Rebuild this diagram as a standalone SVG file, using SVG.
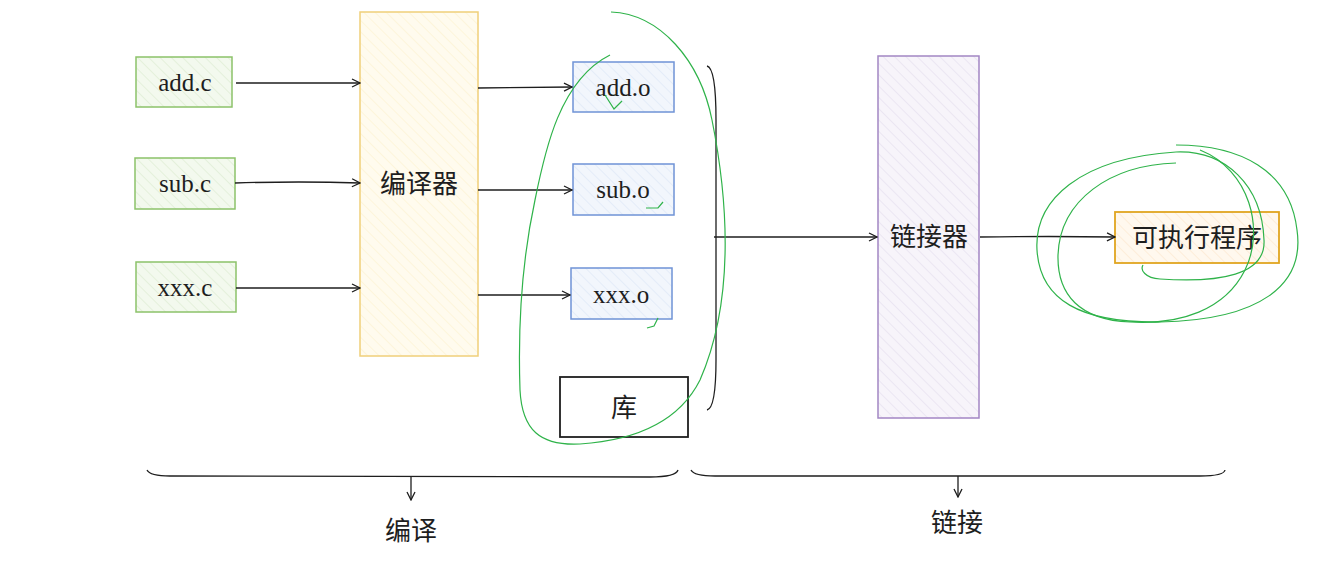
<svg xmlns="http://www.w3.org/2000/svg" width="1334" height="563" viewBox="0 0 1334 563">
<defs>
<marker id="ah" markerWidth="10" markerHeight="10" refX="9" refY="5" orient="auto" markerUnits="userSpaceOnUse"><path d="M1,1 L9,5 L1,9" fill="none" stroke="#1e1e1e" stroke-width="1.3"/></marker>
<pattern id="hg" width="8" height="8" patternUnits="userSpaceOnUse" patternTransform="rotate(-45)"><rect width="8" height="8" fill="#f3f9ee"/><line x1="0" y1="0" x2="0" y2="8" stroke="#d5e8c8" stroke-width="1"/></pattern>
<pattern id="hy" width="8" height="8" patternUnits="userSpaceOnUse" patternTransform="rotate(-45)"><rect width="8" height="8" fill="#fffbee"/><line x1="0" y1="0" x2="0" y2="8" stroke="#fcefc8" stroke-width="1"/></pattern>
<pattern id="hb" width="8" height="8" patternUnits="userSpaceOnUse" patternTransform="rotate(-45)"><rect width="8" height="8" fill="#f2f6fc"/><line x1="0" y1="0" x2="0" y2="8" stroke="#d6e2f5" stroke-width="1"/></pattern>
<pattern id="hp" width="8" height="8" patternUnits="userSpaceOnUse" patternTransform="rotate(-45)"><rect width="8" height="8" fill="#f7f4fa"/><line x1="0" y1="0" x2="0" y2="8" stroke="#e0d8ea" stroke-width="1"/></pattern>
<pattern id="ho" width="8" height="8" patternUnits="userSpaceOnUse" patternTransform="rotate(-45)"><rect width="8" height="8" fill="#fff8ee"/><line x1="0" y1="0" x2="0" y2="8" stroke="#fbe3c4" stroke-width="1"/></pattern>
</defs>
<style>
.s{font-family:"Liberation Serif",serif;font-size:25px;fill:#1e1e1e;text-anchor:middle}
.c{font-family:"Noto Sans CJK SC",sans-serif;font-size:26px;fill:#1e1e1e;text-anchor:middle}
.g{fill:url(#hg);stroke:#8cc26a;stroke-width:1.5}
.b{fill:url(#hb);stroke:#6f93d6;stroke-width:1.5}
.ln{fill:none;stroke:#1e1e1e;stroke-width:1.3}
.gr{fill:none;stroke:#2fb34a;stroke-width:1.2}
</style>
<rect width="1334" height="563" fill="#fff"/>
<g id="addc"><rect class="g" x="136" y="57" width="96" height="50"/><text class="s" x="185" y="91">add.c</text></g>
<g id="subc"><rect class="g" x="135" y="158" width="100" height="51"/><text class="s" x="185" y="192">sub.c</text></g>
<g id="xxxc"><rect class="g" x="136" y="262" width="100" height="50"/><text class="s" x="185" y="296">xxx.c</text></g>
<g id="compiler"><rect x="360" y="12" width="118" height="344" fill="url(#hy)" stroke="#f0cf7a" stroke-width="1.5"/><text class="c" x="419" y="193">编译器</text></g>
<g id="addo"><rect class="b" x="573" y="62" width="101" height="50"/><text class="s" x="623" y="96">add.o</text></g>
<g id="subo"><rect class="b" x="573" y="164" width="101" height="51"/><text class="s" x="623" y="198">sub.o</text></g>
<g id="xxxo"><rect class="b" x="571" y="268" width="101" height="51"/><text class="s" x="621" y="303">xxx.o</text></g>
<g id="lib"><rect x="560" y="377" width="128" height="60" fill="#fff" stroke="#1e1e1e" stroke-width="1.8"/><text class="c" x="624" y="417">库</text></g>
<g id="linker"><rect x="878" y="56" width="101" height="362" fill="url(#hp)" stroke="#a386c4" stroke-width="1.5"/><text class="c" x="929" y="246">链接器</text></g>
<g id="exe"><rect x="1115" y="212" width="164" height="51" fill="url(#ho)" stroke="#e0a520" stroke-width="1.8"/><text class="c" x="1197" y="247">可执行程序</text></g>
<g id="connectors">
<path class="ln" marker-end="url(#ah)" d="M236,83 L360,83"/>
<path class="ln" marker-end="url(#ah)" d="M235,183 Q300,181 360,183"/>
<path class="ln" marker-end="url(#ah)" d="M236,288 L360,288"/>
<path class="ln" marker-end="url(#ah)" d="M478,88 L572,87"/>
<path class="ln" marker-end="url(#ah)" d="M478,190 L572,190"/>
<path class="ln" marker-end="url(#ah)" d="M478,295 L570,295"/>
<path class="ln" d="M707,66 Q716,68 716,120 L716,360 Q716,408 707,410"/>
<path class="ln" marker-end="url(#ah)" d="M714,237 L877,237"/>
<path class="ln" marker-end="url(#ah)" d="M980,237 Q1050,236 1115,237"/>
<path class="ln" d="M147,470 Q150,476 170,476 L650,477 Q676,477 678,470"/>
<path class="ln" marker-end="url(#ah)" d="M411,477 L411,500"/>
<path class="ln" d="M691,470 Q694,476 715,476 L1200,476 Q1224,476 1225,470"/>
<path class="ln" marker-end="url(#ah)" d="M958,476 L958,497"/>
</g>
<text class="c" x="411" y="540">编译</text>
<text class="c" x="957" y="532">链接</text>
<g id="annotations">
<path class="gr" d="M611,12 C660,14 700,60 712,120 C728,200 735,300 700,380 C680,420 640,440 580,444 C540,446 522,430 520,390 C518,330 522,260 535,200 C545,150 560,80 610,55"/>
<path class="gr" d="M605,95 L614,109 L622,101"/>
<path class="gr" d="M646,208 L658,208 L663,202"/>
<path class="gr" d="M647,328 L654,326 L658,318"/>
<path class="gr" d="M1176,145 C1240,145 1290,170 1297,230 C1305,285 1260,320 1160,322 C1080,323 1040,300 1037,250 C1034,200 1080,158 1176,152 C1225,150 1262,185 1264,240 C1266,275 1220,283 1160,279 C1145,278 1140,270 1143,265"/>
<path class="gr" d="M1200,150 C1250,170 1265,230 1245,270 C1225,310 1180,325 1130,322 C1080,320 1057,295 1058,255 C1060,200 1110,165 1176,163"/>
</g>
</svg>
